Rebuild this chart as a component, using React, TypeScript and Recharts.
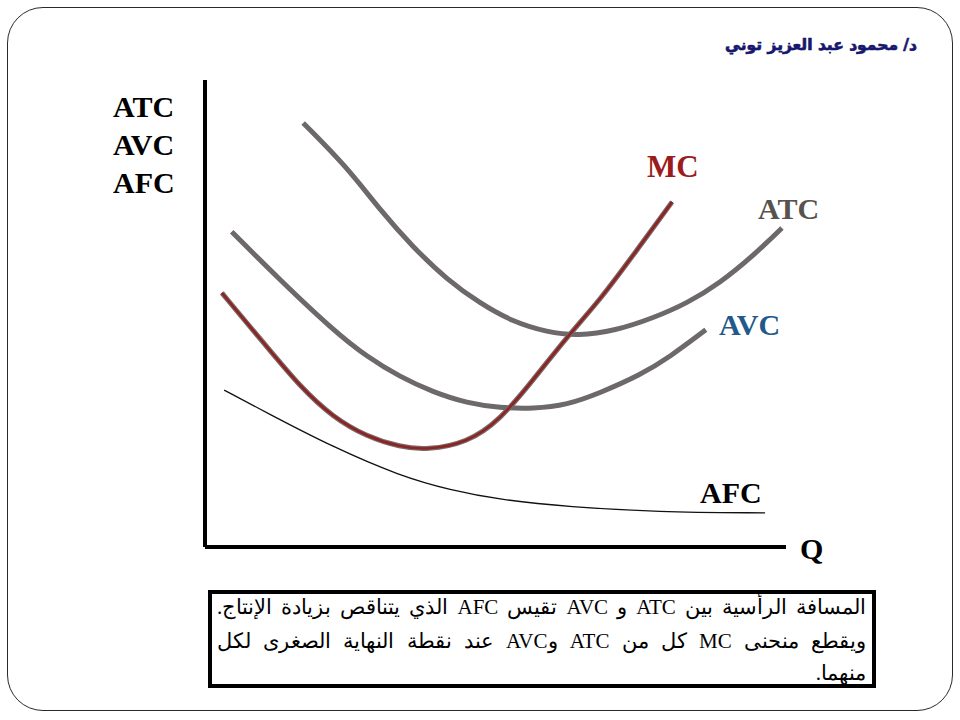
import React from "react";
import { LineChart, Line, XAxis, YAxis } from "recharts";

// Quantity (Q) on a 0-100 scale, cost on a 0-100 scale
const atcData = [
  { q: 16.9, c: 90.8 }, { q: 24.4, c: 81.4 }, { q: 30.1, c: 72.2 }, { q: 35.8, c: 64.2 },
  { q: 41.7, c: 57.2 }, { q: 47.3, c: 52.2 }, { q: 53.0, c: 48.2 }, { q: 58.9, c: 46.0 },
  { q: 64.2, c: 45.2 }, { q: 70.6, c: 46.3 }, { q: 77.1, c: 49.0 }, { q: 83.0, c: 52.2 },
  { q: 88.6, c: 56.5 }, { q: 94.3, c: 62.3 }, { q: 99.3, c: 68.3 },
];

const avcData = [
  { q: 4.6, c: 67.5 }, { q: 12.9, c: 57.2 }, { q: 22.0, c: 46.5 }, { q: 27.9, c: 40.7 },
  { q: 33.6, c: 36.4 }, { q: 39.2, c: 33.2 }, { q: 45.1, c: 30.8 }, { q: 50.8, c: 29.8 },
  { q: 56.5, c: 29.6 }, { q: 62.3, c: 30.4 }, { q: 68.0, c: 33.0 }, { q: 74.9, c: 36.8 },
  { q: 80.0, c: 40.7 }, { q: 86.2, c: 46.5 },
];

const mcData = [
  { q: 2.9, c: 54.4 }, { q: 10.7, c: 42.8 }, { q: 16.4, c: 34.3 }, { q: 22.0, c: 27.8 },
  { q: 27.9, c: 23.6 }, { q: 33.6, c: 21.4 }, { q: 38.2, c: 20.8 }, { q: 45.1, c: 22.3 },
  { q: 50.8, c: 27.2 }, { q: 56.5, c: 35.8 }, { q: 62.3, c: 45.0 }, { q: 68.0, c: 52.9 },
  { q: 74.0, c: 63.0 }, { q: 80.4, c: 73.9 },
];

const afcData = [
  { q: 3.3, c: 33.6 }, { q: 10.7, c: 28.7 }, { q: 22.0, c: 21.4 }, { q: 33.6, c: 15.2 },
  { q: 42.2, c: 12.2 }, { q: 50.8, c: 10.1 }, { q: 62.8, c: 8.6 }, { q: 77.6, c: 7.5 },
  { q: 96.4, c: 7.3 },
];

const yAxisTitle = ["ATC", "AVC", "AFC"];
const xAxisTitle = "Q";
const author = "د/ محمود عبد العزيز توني";
const noteLines = [
  "المسافة الرأسية بين ATC  و AVC تقيس AFC الذي يتناقص بزيادة الإنتاج.",
  "ويقطع منحنى MC  كل من ATC وAVC  عند نقطة النهاية الصغرى  لكل",
  "منهما.",
];

const serif = "'Liberation Serif', 'Times New Roman', serif";

export default function App() {
  return (
    <div style={{ position: "absolute", left: 0, top: 0, width: 960, height: 720, background: "#fff", overflow: "hidden" }}>
      <div style={{ position: "absolute", left: 0, top: 0 }}>
        <LineChart width={960} height={720} margin={{ left: 204, right: 174, top: 80, bottom: 172 }}>
          <XAxis
            type="number"
            dataKey="q"
            domain={[0, 100]}
            allowDataOverflow
            height={1}
            tick={false}
            tickLine={false}
            axisLine={{ stroke: "#000", strokeWidth: 4 }}
          />
          <YAxis
            type="number"
            dataKey="c"
            domain={[0, 100]}
            allowDataOverflow
            width={1}
            tick={false}
            tickLine={false}
            axisLine={{ stroke: "#000", strokeWidth: 4 }}
          />
          <Line data={afcData} dataKey="c" type="basis" stroke="#111" strokeWidth={1.3} dot={false} activeDot={false} isAnimationActive={false} />
          <Line data={avcData} dataKey="c" type="basis" stroke="#6d686a" strokeWidth={5} dot={false} activeDot={false} isAnimationActive={false} />
          <Line data={atcData} dataKey="c" type="basis" stroke="#6d686a" strokeWidth={5} dot={false} activeDot={false} isAnimationActive={false} />
          <Line data={mcData} dataKey="c" type="basis" stroke="#7a6a6a" strokeWidth={5} dot={false} activeDot={false} isAnimationActive={false} />
          <Line data={mcData} dataKey="c" type="basis" stroke="#8c2424" strokeWidth={2.6} dot={false} activeDot={false} isAnimationActive={false} />
        </LineChart>
      </div>

      {/* slide frame */}
      <div
        style={{
          position: "absolute", left: 7, top: 7, width: 946, height: 704,
          border: "1.5px solid #2a2a2a", borderRadius: 36, boxSizing: "border-box", pointerEvents: "none",
        }}
      />

      <svg width={960} height={720} style={{ position: "absolute", left: 0, top: 0, pointerEvents: "none" }}>
        <g fontFamily={serif} fontWeight="bold" fontSize={30}>
          {yAxisTitle.map((t, i) => (
            <text key={t} x={113} y={117 + i * 38} fill="#000">{t}</text>
          ))}
          <text x={800} y={559} fill="#000">{xAxisTitle}</text>
          <text x={647} y={177} fill="#9a1c1c" fontSize={31}>MC</text>
          <text x={758} y={219} fill="#58524f">ATC</text>
          <text x={719} y={335} fill="#22588a">AVC</text>
          <text x={700} y={503} fill="#000">AFC</text>
        </g>
      </svg>

      <div
        dir="rtl"
        style={{
          position: "absolute", right: 43, top: 31, whiteSpace: "nowrap",
          fontFamily: "'DejaVu Sans', sans-serif", fontWeight: "bold", fontSize: 15.5,
          lineHeight: "28px", color: "#17176e", WebkitTextStroke: "0.7px #17176e",
        }}
      >
        {author}
      </div>

      <div
        dir="rtl"
        style={{
          position: "absolute", left: 208, top: 590, width: 668, height: 98,
          border: "4px solid #000", boxSizing: "border-box", padding: "0 6px 0 5px",
          fontFamily: serif, fontSize: 21, color: "#000", background: "#fff", overflow: "hidden",
        }}
      >
        {noteLines.map((l, i) => (
          <div
            key={i}
            style={{
              textAlign: i < 2 ? "justify" : "right",
              textAlignLast: i < 2 ? "justify" : "right",
              whiteSpace: "nowrap",
              height: i < 2 ? 34 : 30,
              lineHeight: i < 2 ? "34px" : "30px",
              marginTop: i === 0 ? -4 : 0,
            }}
          >
            {l}
          </div>
        ))}
      </div>
    </div>
  );
}
